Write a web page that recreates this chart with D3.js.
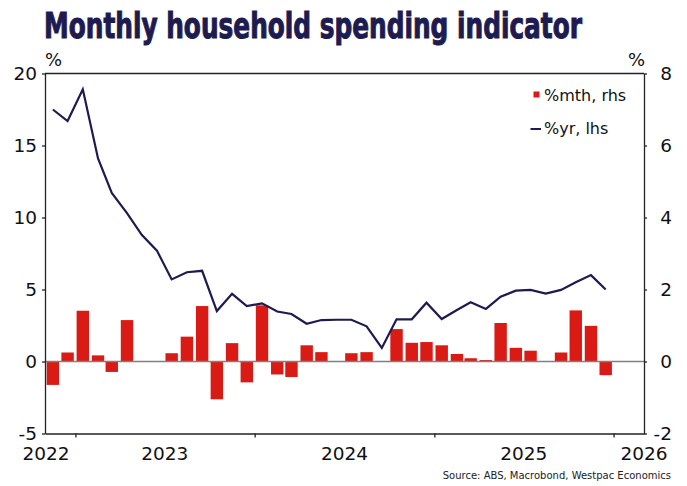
<!DOCTYPE html>
<html><head><meta charset="utf-8">
<script src="https://cdn.jsdelivr.net/npm/d3@7"></script>
<style>
body{margin:0;background:#fff;}
svg{display:block;font-family:"DejaVu Sans",sans-serif;}
</style>
</head><body><svg id="c" width="687" height="486"></svg>
<script>
// ---- data ----
const months = ["2022-11","2022-12",
  "2023-01","2023-02","2023-03","2023-04","2023-05","2023-06","2023-07","2023-08","2023-09","2023-10","2023-11","2023-12",
  "2024-01","2024-02","2024-03","2024-04","2024-05","2024-06","2024-07","2024-08","2024-09","2024-10","2024-11","2024-12",
  "2025-01","2025-02","2025-03","2025-04","2025-05","2025-06","2025-07","2025-08","2025-09","2025-10","2025-11","2025-12"];
const mthChange = [-0.65,0.25,
  1.41,0.17,-0.29,1.15,0.01,-0.01,0.23,0.69,1.54,-1.05,0.51,-0.58,
  1.56,-0.36,-0.43,0.45,0.26,-0.01,0.23,0.26,0.01,0.90,0.52,0.54,
  0.45,0.21,0.09,0.04,1.07,0.38,0.30,0.01,0.25,1.42,0.99,-0.38];
const yrChange = [17.5,16.7,
  18.9,14.1,11.7,10.3,8.8,7.7,5.7,6.2,6.3,3.5,4.7,3.85,
  4.04,3.47,3.3,2.62,2.88,2.9,2.9,2.44,0.94,2.93,2.93,4.08,
  2.95,3.58,4.11,3.65,4.5,4.92,4.97,4.71,4.97,5.5,6.0,5.0];
const leftTicks = [-5,0,5,10,15,20];
const rightTicks = [-2,0,2,4,6,8];
const yearLabels = ["2022","2023","2024","2025","2026"];
const yearTicks = ["2023","2024","2025","2026"];
const seriesNames = ["%mth, rhs","%yr, lhs"];
const titleText = "Monthly household spending indicator";
const sourceText = "Source: ABS, Macrobond, Westpac Economics";

// ---- layout ----
const svg = d3.select("#c");
const L = 45, R = 644, T = 73.5, B = 433.5;
const RED = "#da1a14", NAVY = "#1d1b4f", AXIS = "#222";

const x = d3.scaleTime().domain([new Date(2022,9,31), new Date(2026,2,4)]).range([L,R]);
const yL = d3.scaleLinear().domain([-5,20]).range([B,T]);
const yR = d3.scaleLinear().domain([-2,8]).range([B,T]);
const mid = s => { const [yy,mm] = s.split("-").map(Number); return new Date(yy,mm-1,16); };
const bw = 12.4;

// title (scaled horizontally to the reference width)
const title = svg.append("text").attr("x",0).attr("y",0)
  .attr("font-family","'Liberation Sans Narrow','DejaVu Sans Condensed',sans-serif")
  .attr("font-weight","bold").attr("font-size",35)
  .attr("fill",NAVY).attr("stroke",NAVY).attr("stroke-width",1)
  .text(titleText);
const natW = title.node().getComputedTextLength() || 538;
title.attr("transform",`translate(44,37.5) scale(${538/natW},1)`);

// % unit labels
svg.append("text").attr("x",45).attr("y",66).attr("font-size",18).attr("fill","#111").text("%");
svg.append("text").attr("x",645).attr("y",66).attr("text-anchor","end").attr("font-size",18).attr("fill","#111").text("%");

// bars
svg.append("g").selectAll("rect").data(months).join("rect")
  .attr("x",(d)=>x(mid(d))-bw/2)
  .attr("y",(d,i)=>yR(Math.max(0,mthChange[i])))
  .attr("width",bw)
  .attr("height",(d,i)=>Math.abs(yR(mthChange[i])-yR(0)))
  .attr("fill",RED);

// zero line
svg.append("line").attr("x1",L).attr("x2",R).attr("y1",yL(0)).attr("y2",yL(0))
  .attr("stroke","#808080").attr("stroke-width",1.6);

// yoy line
svg.append("path").datum(months)
  .attr("fill","none").attr("stroke",NAVY).attr("stroke-width",2.2).attr("stroke-linejoin","miter")
  .attr("d", d3.line().x(d=>x(mid(d))).y((d,i)=>yL(yrChange[i])));

// axes
const fmt = d => String(d);
const gL = svg.append("g").attr("transform",`translate(${L},0)`)
  .call(d3.axisLeft(yL).tickValues(leftTicks).tickSize(3).tickSizeOuter(0).tickPadding(5).tickFormat(fmt));
const gR = svg.append("g").attr("transform",`translate(${R},0)`)
  .call(d3.axisRight(yR).tickValues(rightTicks).tickSize(3).tickSizeOuter(0).tickPadding(5).tickFormat(fmt));
gR.selectAll("text").attr("text-anchor","end").attr("x",28);
const gB = svg.append("g").attr("transform",`translate(0,${B})`)
  .call(d3.axisBottom(x).tickValues(yearTicks.map(y=>new Date(+y,0,1))).tickSize(4).tickSizeOuter(0).tickFormat(""));
[gL,gR,gB].forEach(g=>{
  g.selectAll("path,line").attr("stroke",AXIS).attr("stroke-width",1.3);
  g.selectAll("text").attr("font-size",18.5).attr("font-family","'DejaVu Sans',sans-serif").attr("fill","#111");
});
svg.append("line").attr("x1",L).attr("x2",R).attr("y1",T).attr("y2",T).attr("stroke",AXIS).attr("stroke-width",1.3);

// year labels at mid-year, clamped to the plot
svg.append("g").selectAll("text").data(yearLabels).join("text")
  .attr("x",d=>Math.max(L+1,Math.min(R,x(new Date(+d,6,2)))))
  .attr("y",459.5).attr("text-anchor","middle").attr("font-size",18.5).attr("fill","#111")
  .text(d=>d);

// legend
const lg = svg.append("g");
lg.append("rect").attr("x",533.5).attr("y",91.5).attr("width",6).attr("height",6).attr("fill",RED);
lg.append("text").attr("x",544).attr("y",100.7).attr("font-size",16).attr("fill","#111").text(seriesNames[0]);
lg.append("line").attr("x1",530.5).attr("x2",541).attr("y1",129).attr("y2",129).attr("stroke",NAVY).attr("stroke-width",2);
lg.append("text").attr("x",544).attr("y",134.3).attr("font-size",16).attr("fill","#111").text(seriesNames[1]);

// source
svg.append("text").attr("x",671).attr("y",479).attr("text-anchor","end")
  .attr("font-size",10).attr("fill","#222").text(sourceText);
</script>
</body></html>
